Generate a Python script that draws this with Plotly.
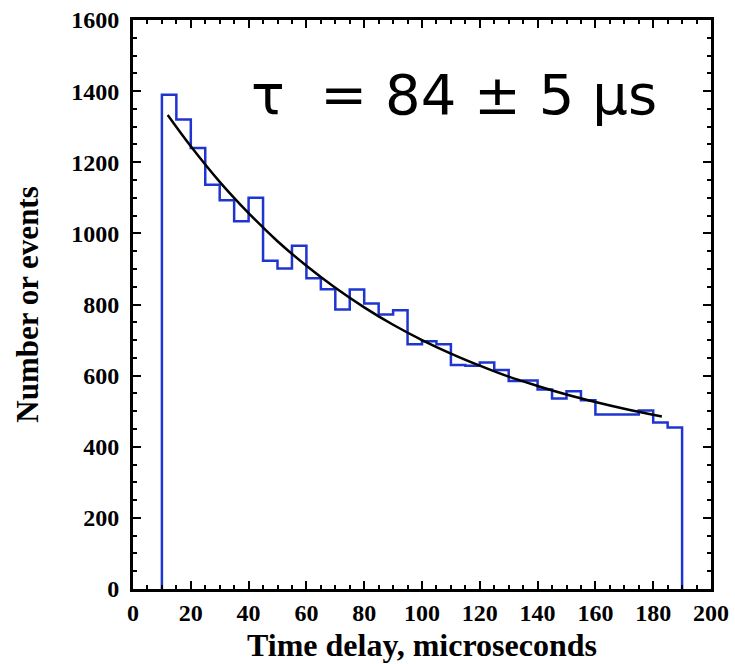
import plotly.graph_objects as go

# Histogram bins (left edges, width 5 microseconds) and counts
bin_left = [10, 15, 20, 25, 30, 35, 40, 45, 50, 55, 60, 65, 70, 75, 80, 85, 90, 95,
            100, 105, 110, 115, 120, 125, 130, 135, 140, 145, 150, 155, 160, 165, 170, 175, 180, 185]
bin_width = 5
counts = [1390, 1320, 1240, 1137, 1093, 1034, 1100, 923, 901, 965, 874, 843, 786, 842, 803, 772, 784, 688,
          697, 688, 630, 628, 637, 616, 585, 586, 561, 536, 556, 531, 491, 491, 491, 502, 468, 454]

# Fitted exponential curve
fit_t = [12, 20, 30, 40, 50, 60, 70, 80, 90, 100, 110, 120, 130, 140, 150, 160, 170, 183]
fit_n = [1333, 1245, 1145, 1057, 978, 909, 847, 792, 743, 700, 662, 628, 597, 571, 547, 526, 507, 485]

x_ticks = [0, 20, 40, 60, 80, 100, 120, 140, 160, 180, 200]
y_ticks = [0, 200, 400, 600, 800, 1000, 1200, 1400, 1600]

annotation_text = "\u03c4  = 84 \u00b1 5 \u03bcs"
x_title = "Time delay, microseconds"
y_title = "Number or events"

last_edge = bin_left[-1] + bin_width
hx = [bin_left[0]] + bin_left + [last_edge, last_edge]
hy = [0] + counts + [counts[-1], 0]

fig = go.Figure()
fig.add_trace(go.Scatter(x=hx, y=hy, mode="lines", line=dict(color="#1f35d0", width=2.5, shape="hv"),
                         showlegend=False, hoverinfo="skip"))
fig.add_trace(go.Scatter(x=fit_t, y=fit_n, mode="lines", line=dict(color="black", width=2.5, shape="spline"),
                         showlegend=False, hoverinfo="skip"))

tick_font = dict(family="Liberation Serif", size=24, color="black")

fig.update_layout(
    width=735, height=664,
    margin=dict(l=133, r=24, t=20, b=75),
    paper_bgcolor="white", plot_bgcolor="white",
    font=dict(family="Liberation Serif"),
)
fig.update_xaxes(
    range=[0, 200], tickvals=x_ticks, ticktext=[f"<b>{v}</b>" for v in x_ticks],
    ticks="inside", ticklen=8, tickwidth=2, tickcolor="black",
    minor=dict(dtick=5, tick0=0, ticks="inside", ticklen=4, tickwidth=2, tickcolor="black"),
    showline=True, linewidth=3, linecolor="black", mirror="ticks",
    showgrid=False, zeroline=False, tickfont=tick_font, ticklabelstandoff=0, automargin=False,
)
fig.update_yaxes(
    range=[0, 1600], tickvals=y_ticks, ticktext=[f"<b>{v}</b>" for v in y_ticks],
    ticks="inside", ticklen=8, tickwidth=2, tickcolor="black",
    minor=dict(dtick=50, tick0=0, ticks="inside", ticklen=4, tickwidth=2, tickcolor="black"),
    showline=True, linewidth=3, linecolor="black", mirror="ticks",
    showgrid=False, zeroline=False, tickfont=tick_font, ticklabelstandoff=6, automargin=False,
    title=dict(text=f"<b>{y_title}</b>",
               font=dict(family="Liberation Serif", size=31, color="black"), standoff=24),
)
fig.add_annotation(x=0.5, y=-0.099, xref="paper", yref="paper", text=f"<b>{x_title}</b>",
                   showarrow=False, xanchor="center", yanchor="middle",
                   font=dict(family="Liberation Serif", size=32, color="black"))
fig.add_annotation(x=40, y=1390, xref="x", yref="y", text=annotation_text, showarrow=False,
                   xanchor="left", yanchor="middle",
                   font=dict(family="DejaVu Sans", size=56, color="black"))

fig.write_html("out.html")
